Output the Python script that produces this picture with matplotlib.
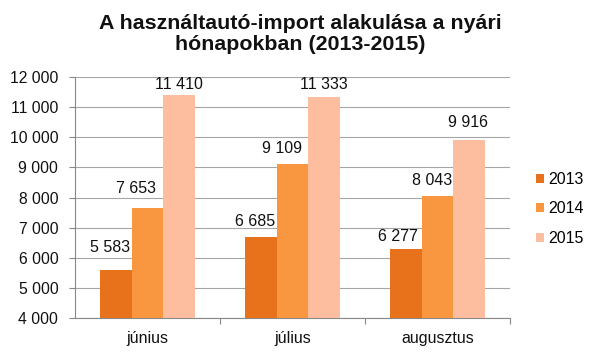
import matplotlib
matplotlib.use("Agg")
import matplotlib.pyplot as plt
import numpy as np
from matplotlib import font_manager

months = ["június", "július", "augusztus"]
years = ["2013", "2014", "2015"]
v2013 = [5583, 6685, 6277]
v2014 = [7653, 9109, 8043]
v2015 = [11410, 11333, 9916]
colors = ["#E8721C", "#F99640", "#FCBE9E"]
yticks = [4000, 5000, 6000, 7000, 8000, 9000, 10000, 11000, 12000]
# label placement offsets (pixels) per series, per month: (dx, dy)
label_off = [
    [(-6, 18), (-6, 11), (-8, 8)],
    [(-12, 15), (-10, 11), (-5, 11)],
    [(0, 6), (-1, 8), (-1.5, 13)],
]

names = {f.name for f in font_manager.fontManager.ttflist}
narrow = "Liberation Sans Narrow" if "Liberation Sans Narrow" in names else "Liberation Sans"
plt.rcParams['font.family'] = ['Liberation Sans', 'DejaVu Sans']

def fmt(v):
    return f"{v:,}".replace(",", " ")

fig = plt.figure(figsize=(6, 3.56), dpi=100)
ax = fig.add_axes([0.125, 0.1067, 0.725, 0.677])

series = [v2013, v2014, v2015]
x = np.arange(len(months))
w = 0.22
for i, (s, c, lab) in enumerate(zip(series, colors, years)):
    xs = x + (i - 1) * w
    ax.bar(xs, [v - 4000 for v in s], bottom=4000, width=w, color=c, label=lab, zorder=3)
    for j, (xi, v) in enumerate(zip(xs, s)):
        dx, dy = label_off[i][j]
        ax.annotate(fmt(v), (xi, v), xytext=(dx, dy), textcoords="offset pixels",
                    ha="center", va="baseline", fontsize=11.5, color="#111111", zorder=6)

ax.set_xlim(-0.5, 2.5)
ax.set_ylim(4000, 12000)
ax.set_yticks(yticks)
ax.set_yticklabels([fmt(t) for t in yticks], fontsize=11.3, color="#111111")
ax.yaxis.grid(True, color="#A6A6A6", linewidth=0.8, zorder=0)
ax.set_axisbelow(True)
ax.set_xticks([0.5, 1.5, 2.5], minor=False)
ax.set_xticklabels([])
ax.set_xticks(x, minor=True)
ax.set_xticklabels(months, minor=True, fontsize=11.5, color="#111111")
ax.tick_params(axis="x", which="minor", length=0, pad=9)
ax.tick_params(axis="x", which="major", length=4, color="#888888")
ax.tick_params(axis="y", length=4, color="#888888", pad=8)
for sp in ["top", "right"]:
    ax.spines[sp].set_visible(False)
for sp in ["left", "bottom"]:
    ax.spines[sp].set_color("#888888")
    ax.spines[sp].set_linewidth(0.8)

leg = fig.legend(loc="center left", bbox_to_anchor=(0.893, 0.413), frameon=False,
                 fontsize=11.5, handlelength=0.5, handleheight=0.5, handletextpad=0.3,
                 labelspacing=0.9, borderpad=0, borderaxespad=0)

fig.text(0.5, 0.905, "A használtautó-import alakulása a nyári\nhónapokban (2013-2015)",
         ha="center", va="center", fontsize=15.4, fontweight="bold",
         family=[narrow, "DejaVu Sans"], linespacing=1.1, color="#111111")

fig.savefig("out.png", dpi=100)
